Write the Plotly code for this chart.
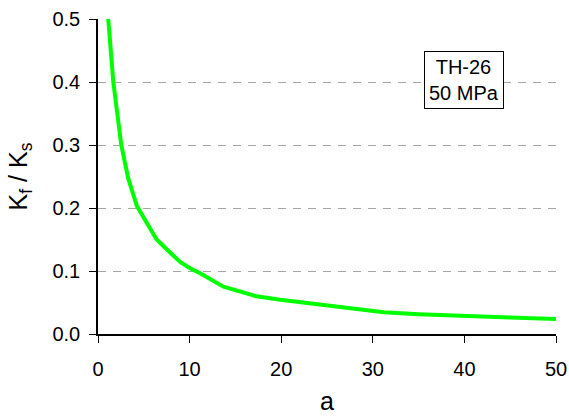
import plotly.graph_objects as go

a_vals = [1.12, 1.67, 2.54, 3.3, 4.25, 5.5, 6.4, 7.9, 9.0, 10.1, 11.2, 13.7, 17.3, 19.9, 25.0, 29.0, 31.2, 35.0, 40.3, 45.0, 50.0]
kf_ks = [0.500, 0.400, 0.300, 0.247, 0.203, 0.173, 0.150, 0.129, 0.114, 0.104, 0.0960, 0.0750, 0.0600, 0.0544, 0.0450, 0.0375, 0.0345, 0.0315, 0.0280, 0.0262, 0.0238]

x_ticks = [0, 10, 20, 30, 40, 50]
y_ticks = [0.0, 0.1, 0.2, 0.3, 0.4, 0.5]

font_family = "Liberation Sans, Arial, sans-serif"

fig = go.Figure()
fig.add_trace(go.Scatter(x=a_vals, y=kf_ks, mode="lines",
                         line=dict(color="#00ff00", width=4),
                         showlegend=False, hoverinfo="skip"))

fig.update_layout(
    width=569, height=417,
    margin=dict(l=98, r=13, t=19, b=83),
    paper_bgcolor="white", plot_bgcolor="white",
    font=dict(family=font_family, size=19, color="black"),
    xaxis=dict(range=[0, 50], tickvals=x_ticks, ticks="outside", ticklen=7, tickcolor="black",
               tickfont=dict(size=20), ticklabelstandoff=9, automargin=False,
               showline=True, linecolor="black", linewidth=1.5, showgrid=False, zeroline=False,
               title=dict(text="a", font=dict(size=25), standoff=14)),
    yaxis=dict(range=[0, 0.5], tickvals=y_ticks, tickformat=".1f", ticks="outside", ticklen=7,
               tickcolor="black", tickfont=dict(size=20), ticklabelstandoff=5, automargin=False,
               showline=True, linecolor="black", linewidth=1.5,
               showgrid=True, gridcolor="#a6a6a6", griddash="8px,7px", gridwidth=1, zeroline=False,
               title=dict(text="K<sub>f</sub> / K<sub>s</sub>", font=dict(size=25), standoff=18)),
    annotations=[dict(x=0.80, y=0.806, xref="paper", yref="paper",
                      text="TH-26<br>50 MPa", showarrow=False,
                      font=dict(size=20, family=font_family, color="black"),
                      bordercolor="black", borderwidth=1, borderpad=4, bgcolor="white",
                      xanchor="center", yanchor="middle")],
)

fig.write_html("out.html")
